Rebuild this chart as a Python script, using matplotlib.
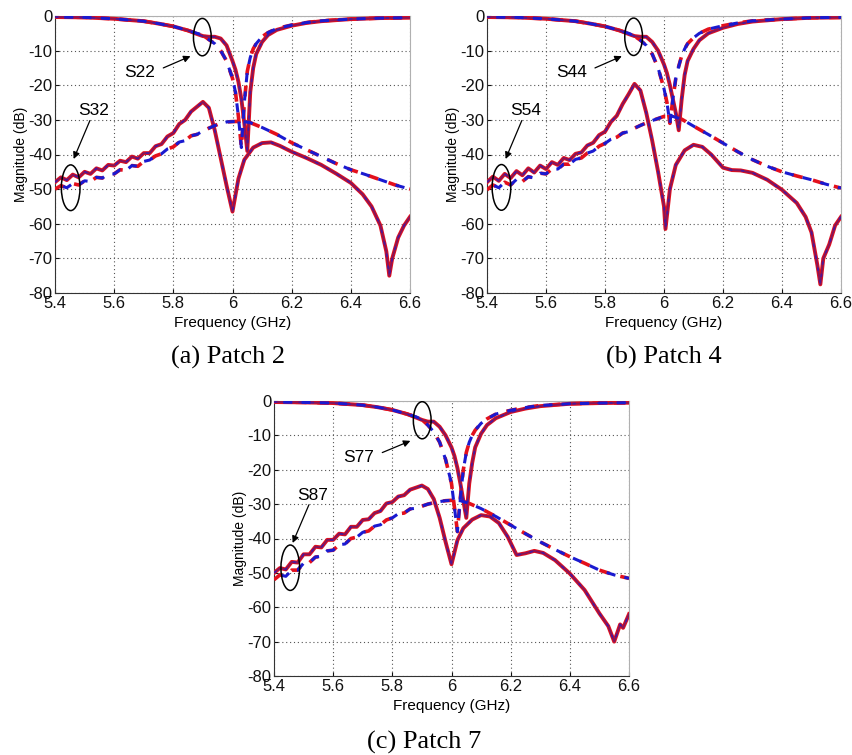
import matplotlib
matplotlib.use("Agg")
import matplotlib.pyplot as plt
from matplotlib.patches import Ellipse

plt.rcParams["font.family"] = ["Liberation Sans", "DejaVu Sans"]
plt.rcParams["axes.unicode_minus"] = False

# reflection curves (S22 / S44 / S77), shared frequency grid
f_refl = [5.40, 5.50, 5.60, 5.70, 5.75, 5.80, 5.85, 5.88, 5.90, 5.92, 5.94, 5.96, 5.98, 6.00, 6.01,
          6.02, 6.03, 6.04, 6.05, 6.06, 6.07, 6.08, 6.10, 6.12, 6.15, 6.20, 6.25, 6.30, 6.40, 6.50, 6.60]
a_s22_solid = [-0.3, -0.4, -0.8, -1.5, -2.2, -3.0, -4.2, -5.2, -5.8, -6.0, -6.0, -6.5, -8.5, -13, -15.5,
               -19, -24, -31, -39, -22, -15, -11, -7.5, -5.5, -4.0, -2.8, -2.0, -1.5, -0.9, -0.6, -0.5]
a_s22_dash = [-0.3, -0.4, -0.8, -1.5, -2.2, -3.0, -4.2, -5.0, -5.5, -6.8, -8.0, -10, -13, -18, -22,
              -29, -38, -25, -16, -12, -9.5, -8.0, -6.0, -4.8, -3.6, -2.6, -1.9, -1.4, -0.9, -0.6, -0.5]
b_s44_solid = [-0.3, -0.4, -0.8, -1.5, -2.2, -3.0, -4.2, -5.2, -5.8, -6.0, -6.0, -7.5, -10, -14, -16.5,
               -20, -24, -28, -33, -24, -17, -13, -9.5, -7.0, -5.0, -3.4, -2.3, -1.6, -0.9, -0.5, -0.4]
b_s44_dash = [-0.3, -0.4, -0.8, -1.5, -2.2, -3.0, -4.2, -5.0, -5.8, -7.0, -8.5, -11, -15, -21, -25,
              -31, -24, -18, -14.5, -11.5, -9.5, -8.0, -6.3, -5.0, -3.8, -2.8, -2.0, -1.4, -0.9, -0.5, -0.4]
c_s77_solid = [-0.3, -0.4, -0.6, -1.2, -1.8, -2.6, -3.8, -4.8, -5.5, -6.0, -6.0, -7.5, -10, -13.5, -16,
               -19.5, -24, -29, -34, -24, -18, -13.5, -9.5, -7.0, -5.0, -3.2, -2.2, -1.5, -0.8, -0.6, -0.5]
c_s77_dash = [-0.3, -0.4, -0.6, -1.2, -1.8, -2.6, -3.8, -4.6, -5.4, -7.0, -9.0, -12, -17, -24, -31,
              -38, -28, -20, -15, -12, -10, -8.5, -6.5, -5.2, -3.8, -2.7, -1.9, -1.3, -0.8, -0.6, -0.5]

# coupling curves: rippled low band, then per-curve tail
f_rip = [5.40, 5.42, 5.44, 5.46, 5.48, 5.50, 5.52, 5.54, 5.56, 5.58, 5.60, 5.62, 5.64,
         5.66, 5.68, 5.70, 5.72, 5.74, 5.76, 5.78, 5.80, 5.82, 5.84, 5.86, 5.88, 5.90]

a_s32_solid_lo = [-48.0, -46.6, -47.4, -45.8, -46.6, -45.0, -45.6, -44.0, -44.6, -43.0, -43.2, -41.8, -42.2,
                  -40.6, -41.2, -39.6, -39.6, -37.6, -37.0, -34.8, -33.8, -31.2, -30.0, -27.6, -26.2, -24.8]
a_s32_solid_f = [5.92, 5.94, 5.96, 5.98, 6.00, 6.02, 6.04, 6.07, 6.10, 6.13, 6.16, 6.20, 6.25, 6.30,
                 6.35, 6.40, 6.44, 6.47, 6.50, 6.52, 6.53, 6.54, 6.56, 6.58, 6.60]
a_s32_solid_hi = [-26.5, -33, -41, -49, -56.5, -47, -41.5, -38, -36.7, -36.5, -37.5, -39.2, -41, -43,
                  -45.5, -48.2, -51.5, -55, -60.5, -68, -75, -70, -64, -60.5, -58]
a_s32_dash_lo = [-50.0, -49.0, -49.6, -48.4, -48.8, -47.6, -47.8, -46.6, -46.8, -45.6, -45.6, -44.4, -44.6,
                 -43.2, -43.4, -42.0, -41.6, -40.4, -39.8, -38.4, -37.8, -36.4, -36.0, -34.6, -34.2, -33.2]
a_s32_dash_f = [5.92, 5.95, 5.98, 6.00, 6.03, 6.06, 6.10, 6.15, 6.20, 6.25, 6.30, 6.35, 6.40, 6.45, 6.50, 6.55, 6.60]
a_s32_dash_hi = [-32.4, -31.3, -30.6, -30.5, -30.4, -30.8, -32.2, -34.2, -36.6, -38.6, -40.6, -42.6,
                 -44.4, -45.8, -47.3, -48.8, -50.0]

b_s54_solid_lo = [-48.0, -46.4, -47.6, -45.6, -46.8, -44.8, -46.0, -44.0, -45.2, -43.2, -44.2, -42.2, -43.0,
                  -41.0, -41.6, -39.8, -39.4, -37.4, -36.6, -34.4, -33.4, -30.6, -28.8, -25.4, -22.6, -19.6]
b_s54_solid_f = [5.92, 5.94, 5.96, 5.98, 6.00, 6.005, 6.02, 6.04, 6.07, 6.10, 6.13, 6.16, 6.20, 6.23, 6.26,
                 6.30, 6.35, 6.40, 6.45, 6.48, 6.50, 6.52, 6.53, 6.54, 6.56, 6.58, 6.60]
b_s54_solid_hi = [-21.5, -28, -36, -45, -55, -61.5, -50, -43, -38.8, -37.2, -37.8, -40, -43.8, -44.5, -44.6,
                  -45.3, -47.3, -50.2, -54, -58, -62.5, -72, -77.5, -70, -66, -60.5, -58]
b_s54_dash_lo = [-50.2, -48.8, -49.6, -48.0, -48.8, -47.2, -47.8, -46.4, -46.8, -45.4, -45.6, -44.2, -44.2,
                 -42.8, -42.8, -41.4, -41.0, -39.6, -39.0, -37.6, -36.8, -35.6, -35.0, -33.8, -33.4, -32.4]
b_s54_dash_f = [5.92, 5.95, 5.98, 6.00, 6.03, 6.06, 6.10, 6.15, 6.20, 6.25, 6.30, 6.35, 6.40, 6.45, 6.50, 6.55, 6.60]
b_s54_dash_hi = [-31.6, -30.5, -29.6, -29.0, -29.0, -29.8, -31.8, -34.2, -36.7, -39.2, -41.5, -43.4,
                 -45.0, -46.2, -47.3, -48.6, -49.7]

c_s87_solid_lo = [-50.0, -48.6, -49.0, -46.8, -47.0, -44.6, -44.6, -42.4, -42.6, -40.4, -40.4, -38.6, -38.8,
                  -36.6, -36.6, -34.6, -34.4, -32.6, -32.0, -29.8, -29.4, -27.8, -27.4, -25.8, -25.2, -24.6]
c_s87_solid_f = [5.92, 5.94, 5.96, 5.98, 6.00, 6.02, 6.04, 6.07, 6.10, 6.13, 6.16, 6.19, 6.22, 6.25, 6.28,
                 6.31, 6.35, 6.40, 6.45, 6.50, 6.53, 6.55, 6.57, 6.58, 6.60]
c_s87_solid_hi = [-25.6, -28.5, -34, -41, -47.5, -40.5, -37, -34.5, -33.2, -33.6, -35.5, -39.5, -44.8, -44.3,
                  -43.6, -44.2, -46.3, -50.2, -55, -61.8, -65.5, -70, -65, -66, -62]
c_s87_dash_lo = [-52.0, -50.6, -51.0, -49.2, -49.2, -47.2, -47.0, -45.4, -45.2, -43.6, -43.4, -41.8, -41.6,
                 -40.0, -39.6, -38.2, -37.8, -36.4, -36.0, -34.6, -34.0, -32.8, -32.6, -31.4, -31.2, -30.6]
c_s87_dash_f = [5.92, 5.95, 5.98, 6.00, 6.03, 6.06, 6.10, 6.15, 6.20, 6.25, 6.30, 6.35, 6.40, 6.45, 6.50, 6.55, 6.60]
c_s87_dash_hi = [-30.0, -29.4, -29.0, -28.9, -29.0, -29.8, -31.3, -33.6, -36.1, -38.6, -41.0, -43.2,
                 -45.3, -47.2, -49.2, -50.6, -51.6]

xticks = [5.4, 5.6, 5.8, 6.0, 6.2, 6.4, 6.6]
xtick_labels = ["5.4", "5.6", "5.8", "6", "6.2", "6.4", "6.6"]
yticks = [0, -10, -20, -30, -40, -50, -60, -70, -80]

panels = [
    dict(pos=[55/853, 1-293/755, 355/853, 277/755], refl=(a_s22_solid, a_s22_dash),
         cs=(a_s32_solid_lo, a_s32_solid_f, a_s32_solid_hi), cd=(a_s32_dash_lo, a_s32_dash_f, a_s32_dash_hi),
         top="S22", low="S32", cap="(a) Patch 2", cap_xy=(228/853, 1-357/755),
         e1=(5.898, -6.1), e2=(5.453, -49.6)),
    dict(pos=[487/853, 1-293/755, 354/853, 277/755], refl=(b_s44_solid, b_s44_dash),
         cs=(b_s54_solid_lo, b_s54_solid_f, b_s54_solid_hi), cd=(b_s54_dash_lo, b_s54_dash_f, b_s54_dash_hi),
         top="S44", low="S54", cap="(b) Patch 4", cap_xy=(664/853, 1-357/755),
         e1=(5.897, -6.0), e2=(5.449, -49.5)),
    dict(pos=[274/853, 1-676/755, 355/853, 275/755], refl=(c_s77_solid, c_s77_dash),
         cs=(c_s87_solid_lo, c_s87_solid_f, c_s87_solid_hi), cd=(c_s87_dash_lo, c_s87_dash_f, c_s87_dash_hi),
         top="S77", low="S87", cap="(c) Patch 7", cap_xy=(424/853, 1-742/755),
         e1=(5.901, -5.6), e2=(5.455, -48.5)),
]

red = "#e3101c"
blue = "#1a1ad0"

fig = plt.figure(figsize=(8.53, 7.55), dpi=100)

def draw_solid(ax, x, y):
    ax.plot(x, y, color=red, lw=2.8, solid_joinstyle="round", zorder=3)
    ax.plot(x, y, color="#3a1a90", lw=1.4, alpha=0.55, zorder=4)
    ax.plot(x, y, color=blue, lw=1.6, alpha=0.5, linestyle=(0, (1.5, 4)), zorder=4)

def draw_dashed(ax, x, y):
    ax.plot(x, y, color=red, lw=2.6, linestyle=(0, (3, 3)), zorder=3)
    ax.plot(x, y, color=blue, lw=2.2, linestyle=(3, (3, 3)), zorder=4)

for p in panels:
    ax = fig.add_axes(p["pos"])
    s_solid, s_dash = p["refl"]
    draw_solid(ax, f_refl, s_solid)
    draw_dashed(ax, f_refl, s_dash)
    lo, tf, hi = p["cs"]
    draw_solid(ax, f_rip + tf, lo + hi)
    lo, tf, hi = p["cd"]
    draw_dashed(ax, f_rip + tf, lo + hi)

    ax.set_xlim(5.4, 6.6)
    ax.set_ylim(-80, 0)
    ax.set_xticks(xticks)
    ax.set_xticklabels(xtick_labels)
    ax.set_yticks(yticks)
    ax.tick_params(direction="in", length=3, labelsize=12, pad=2, colors="#111111")
    ax.grid(True, ls=(0, (1, 2.5)), color="#555555", lw=0.8)
    for side in ["top", "right"]:
        ax.spines[side].set_color("#b0b0b0")
    for side in ["bottom", "left"]:
        ax.spines[side].set_color("#333333")
    ax.set_xlabel("Frequency (GHz)", fontsize=11, labelpad=4)
    ax.set_ylabel("Magnitude (dB)", fontsize=10, labelpad=0)

    ax.add_patch(Ellipse(p["e1"], 0.06, 10.8, fill=False, ec="black", lw=1.1, zorder=6))
    ax.add_patch(Ellipse(p["e2"], 0.063, 13.2, fill=False, ec="black", lw=1.1, zorder=6))
    arrow = dict(arrowstyle="-|>", color="black", lw=0.9, shrinkA=0, shrinkB=0, mutation_scale=10)
    ax.text(5.687, -16.3, p["top"], ha="center", va="center", fontsize=12.5, zorder=7)
    ax.annotate("", xy=(p["e1"][0] - 0.04, -11.6), xytext=(5.766, -15.0), arrowprops=arrow, zorder=7)
    ax.text(5.53, -27.4, p["low"], ha="center", va="center", fontsize=12.5, zorder=7)
    ax.annotate("", xy=(5.463, -41.3), xytext=(5.518, -30.2), arrowprops=arrow, zorder=7)

    fig.text(p["cap_xy"][0], p["cap_xy"][1], p["cap"], ha="center", va="center",
             fontsize=19, family=["Liberation Serif", "DejaVu Serif"])

fig.savefig("out.png", dpi=100)
